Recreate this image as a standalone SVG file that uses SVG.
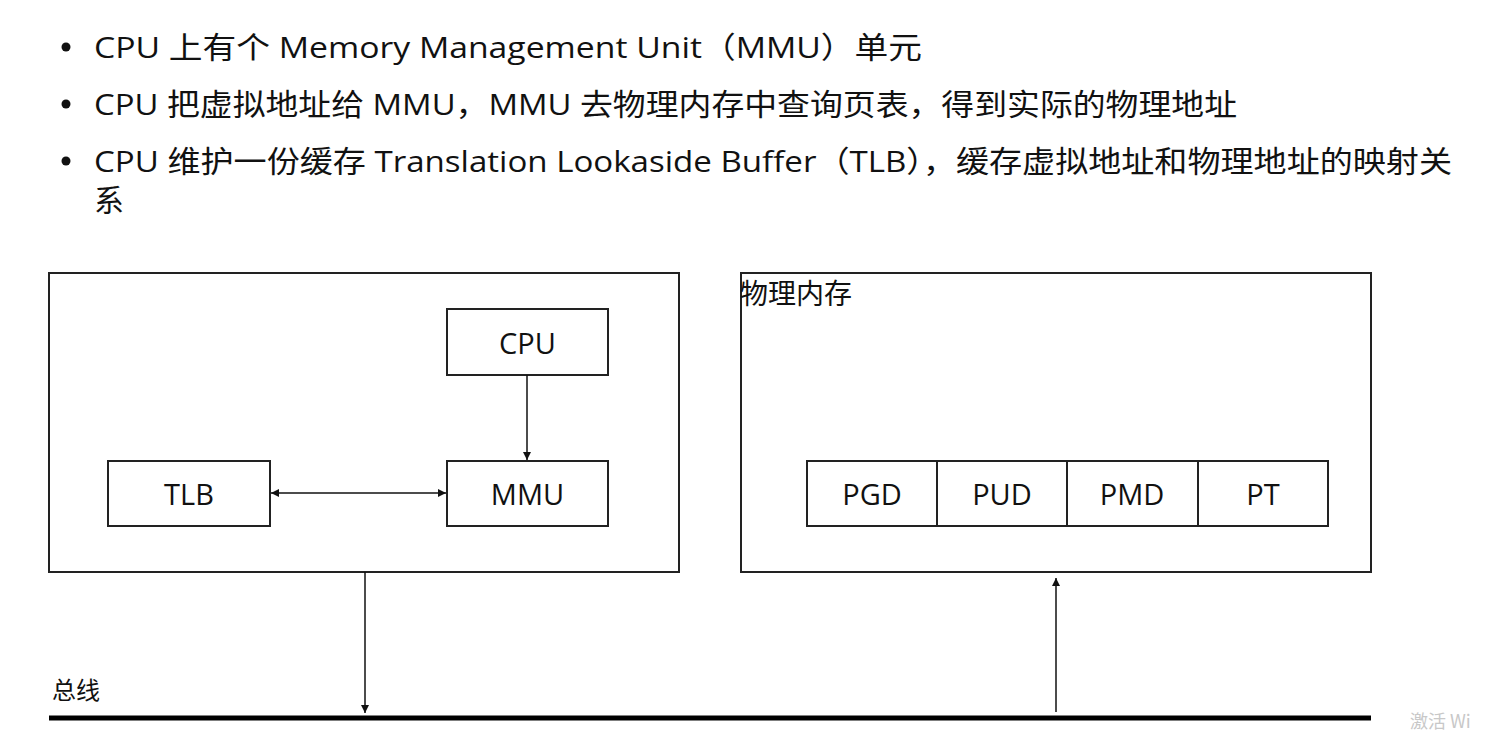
<svg xmlns="http://www.w3.org/2000/svg" width="1486" height="731" viewBox="0 0 1486 731">
<style>
.t{font-family:"Open Sans","Noto Sans CJK SC",sans-serif;fill:#111}
.b{font-size:30px}
.box{fill:#fff;stroke:#222;stroke-width:2}
.lbl{font-size:29px;text-anchor:middle;dominant-baseline:central}
.ln{stroke:#111;stroke-width:1.5;fill:none}
</style>
<defs>
<marker id="ah" viewBox="0 0 10 10" refX="10" refY="5" markerWidth="8" markerHeight="8" markerUnits="userSpaceOnUse" orient="auto-start-reverse">
<path d="M0,0 L10,5 L0,10 z" fill="#111"/>
</marker>
</defs>
<rect width="1486" height="731" fill="#fff"/>
<g id="bullets">
<circle cx="66" cy="47" r="4.5" fill="#111"/>
<circle cx="66" cy="104" r="4.5" fill="#111"/>
<circle cx="66" cy="161" r="4.5" fill="#111"/>
<text class="t b" x="94" y="58" textLength="828" lengthAdjust="spacingAndGlyphs">CPU 上有个 Memory Management Unit（MMU）单元</text>
<text class="t b" x="94" y="115" textLength="1143" lengthAdjust="spacingAndGlyphs">CPU 把虚拟地址给 MMU，MMU 去物理内存中查询页表，得到实际的物理地址</text>
<text class="t b" x="94" y="172" textLength="1358" lengthAdjust="spacingAndGlyphs">CPU 维护一份缓存 Translation Lookaside Buffer（TLB），缓存虚拟地址和物理地址的映射关</text>
<text class="t b" x="94" y="211">系</text>
</g>
<g id="chip">
<rect class="box" x="49" y="273" width="630" height="299"/>
</g>
<g id="memory">
<rect class="box" x="741" y="273" width="630" height="299"/>
<text class="t" x="740" y="304" font-size="28">物理内存</text>
</g>
<g id="cpu">
<rect class="box" x="447" y="309" width="161" height="66"/>
<text class="t lbl" x="527.5" y="342">CPU</text>
</g>
<g id="mmu">
<rect class="box" x="447" y="461" width="161" height="65"/>
<text class="t lbl" x="527.5" y="493">MMU</text>
</g>
<g id="tlb">
<rect class="box" x="108" y="461" width="162" height="65"/>
<text class="t lbl" x="189" y="493">TLB</text>
</g>
<g id="pgd">
<rect class="box" x="807" y="461" width="130" height="65"/>
<text class="t lbl" x="872" y="493">PGD</text>
</g>
<g id="pud">
<rect class="box" x="937" y="461" width="130" height="65"/>
<text class="t lbl" x="1002" y="493">PUD</text>
</g>
<g id="pmd">
<rect class="box" x="1067" y="461" width="131" height="65"/>
<text class="t lbl" x="1132" y="493">PMD</text>
</g>
<g id="pt">
<rect class="box" x="1198" y="461" width="130" height="65"/>
<text class="t lbl" x="1263" y="493">PT</text>
</g>
<g id="bus">
<line x1="49" y1="718" x2="1371" y2="718" stroke="#000" stroke-width="5"/>
<text class="t" x="52" y="699" font-size="24">总线</text>
</g>
<g id="connectors">
<line class="ln" x1="527" y1="375" x2="527" y2="460" marker-end="url(#ah)"/>
<line class="ln" x1="271" y1="493" x2="446" y2="493" marker-start="url(#ah)" marker-end="url(#ah)"/>
<line class="ln" x1="365" y1="572" x2="365" y2="713" marker-end="url(#ah)"/>
<line class="ln" x1="1056" y1="712" x2="1056" y2="578" marker-end="url(#ah)"/>
</g>
<text x="1410" y="728" font-family="Noto Sans CJK SC,sans-serif" font-size="18" fill="#c8c8c8">激活 Wi</text>
</svg>
